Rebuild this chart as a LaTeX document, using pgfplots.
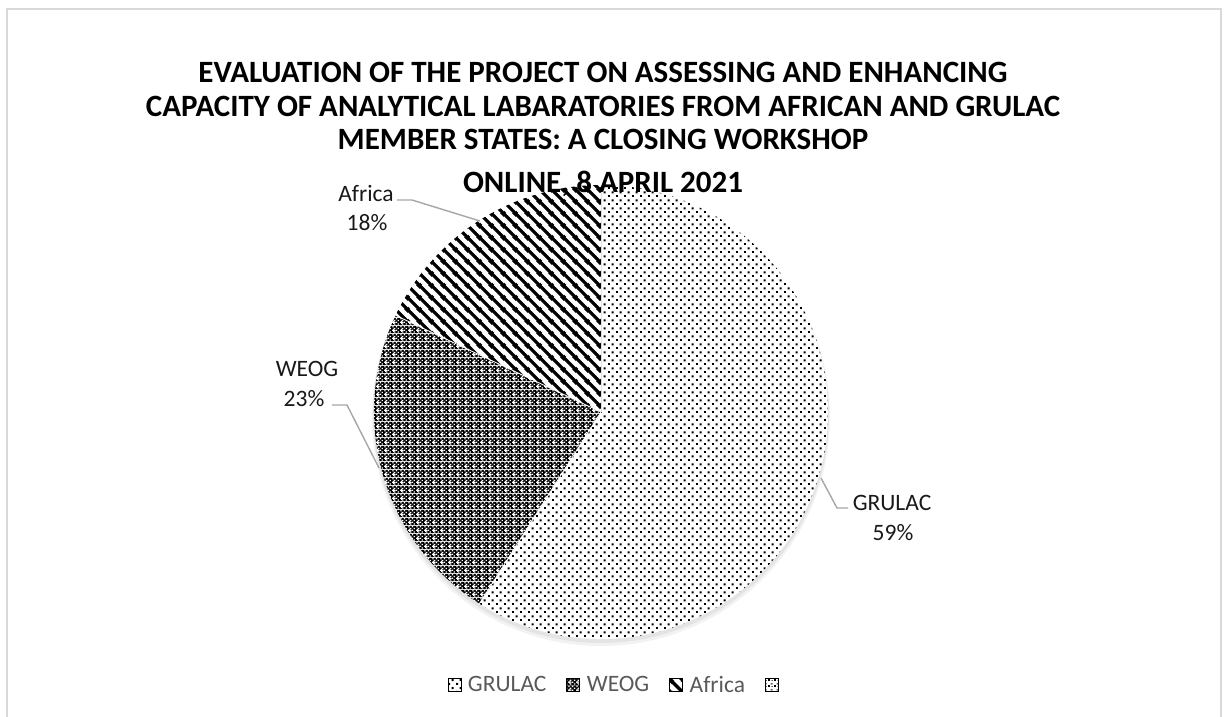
\documentclass[border=0pt]{standalone}
\usepackage{fontspec}
\setmainfont{Carlito}
\usepackage{pgfplots}
\pgfplotsset{compat=1.18}
\usepackage{pgfplotstable}
\usetikzlibrary{patterns,patterns.meta}

\tikzdeclarepattern{name=gdots, type=uncolored,
  bounding box={(0pt,0pt) and (8pt,8pt)}, tile size={(8pt,8pt)},
  code={\fill (0pt,0pt) rectangle (2.2pt,2.2pt); \fill (4pt,4pt) rectangle (6.2pt,6.2pt);}}
\tikzdeclarepattern{name=wcheck, type=colored,
  bounding box={(0pt,0pt) and (8pt,8pt)}, tile size={(8pt,8pt)},
  code={\fill[black] (0pt,0pt) rectangle (8pt,8pt);
    \fill[white] (2.3pt,0.3pt) rectangle (3.7pt,1.7pt); \fill[white] (6.3pt,0.3pt) rectangle (7.7pt,1.7pt);
    \fill[white] (0.3pt,2.3pt) rectangle (1.7pt,3.7pt); \fill[white] (4.3pt,2.3pt) rectangle (5.7pt,3.7pt);
    \fill[white] (2.3pt,4.3pt) rectangle (3.7pt,5.7pt); \fill[white] (6.3pt,4.3pt) rectangle (7.7pt,5.7pt);
    \fill[white] (0.3pt,6.3pt) rectangle (1.7pt,7.7pt); \fill[white] (4.3pt,6.3pt) rectangle (5.7pt,7.7pt);
    \fill[white] (1.4pt,1.0pt) rectangle (2.6pt,5.0pt);
    \fill[white] (0pt,2.4pt) rectangle (4pt,3.6pt);}}
\tikzdeclarepattern{name=astripes, type=uncolored,
  bounding box={(0pt,0pt) and (12pt,12pt)}, tile size={(12pt,12pt)},
  code={\draw[line width=3.6pt] (-1pt,13pt) -- (13pt,-1pt);
    \draw[line width=3.6pt] (-2pt,2pt) -- (2pt,-2pt);
    \draw[line width=3.6pt] (10pt,14pt) -- (14pt,10pt);}}
\tikzdeclarepattern{name=rnd, type=uncolored,
  bounding box={(0pt,0pt) and (6pt,6pt)}, tile size={(6pt,6pt)},
  code={\fill (0pt,0pt) rectangle (2pt,2pt); \fill (3pt,3pt) rectangle (5pt,4pt); \fill (4pt,0pt) rectangle (5pt,1pt);}}

\pgfplotstableread{
name value
GRULAC 59
WEOG 23
Africa 18
}\piedata
\pgfplotstablegetelem{0}{value}\of\piedata \edef\vA{\pgfplotsretval}
\pgfplotstablegetelem{1}{value}\of\piedata \edef\vB{\pgfplotsretval}
\pgfplotstablegetelem{2}{value}\of\piedata \edef\vC{\pgfplotsretval}
\pgfmathsetmacro\total{\vA+\vB+\vC}
\pgfmathsetmacro\aA{90-360*(\vA/\total)}
\pgfmathsetmacro\aB{\aA-360*(\vB/\total)}
\pgfmathsetmacro\aC{\aB-360*(\vC/\total)}

\def\cx{601}\def\cy{412}\def\R{227pt}
\definecolor{lblgray}{HTML}{595959}
\definecolor{leader}{HTML}{A6A6A6}
\definecolor{frame}{HTML}{D9D9D9}

\begin{document}
\begin{tikzpicture}
\begin{axis}[
  scale only axis, width=1225pt, height=716pt,
  xmin=0, xmax=1225, ymin=0, ymax=716, y dir=reverse,
  hide axis, clip=false,
  legend columns=-1,
  legend image code/.code={\fill[#1] (0pt,-6.5pt) rectangle (13pt,6.5pt);},
  legend style={draw=none, fill=none, at={(axis cs:617,685)}, anchor=center,
    font=\fontsize{23.5}{28}\selectfont, text=lblgray,
    nodes={inner sep=0pt},
    /tikz/every odd column/.append style={column sep=7pt},
    /tikz/every even column/.append style={column sep=20pt}},
]
\addlegendimage{pattern=gdots}
\addlegendentry{GRULAC}
\addlegendimage{pattern=wcheck}
\addlegendentry{WEOG}
\addlegendimage{pattern=astripes}
\addlegendentry{Africa}
\addlegendimage{pattern=rnd}
\addlegendentry{}

% frame
\draw[frame, line width=2pt] (axis cs:7,740) -- (axis cs:7,9) -- (axis cs:1221,9) -- (axis cs:1221,740);
% shadow
\fill[black, opacity=0.05] (axis cs:\cx,\cy+5) circle[radius=229pt];
\fill[black, opacity=0.06] (axis cs:\cx,\cy+3) circle[radius=228pt];
\fill[white] (axis cs:\cx,\cy) circle[radius=\R];
% slices
\fill[pattern=gdots] (axis cs:\cx,\cy) -- ++(90:\R) arc[start angle=90, end angle=\aA, radius=\R] -- cycle;
\fill[pattern=wcheck] (axis cs:\cx,\cy) -- ++(\aA:\R) arc[start angle=\aA, end angle=\aB, radius=\R] -- cycle;
\fill[pattern=astripes] (axis cs:\cx,\cy) -- ++(\aB:\R) arc[start angle=\aB, end angle=\aC, radius=\R] -- cycle;
\draw[white!75!gray, line width=0.8pt] (axis cs:\cx,\cy) -- ++(90:\R);
\draw[white, line width=0.8pt] (axis cs:\cx,\cy) -- ++(\aA:\R);
\draw[white, line width=0.8pt] (axis cs:\cx,\cy) -- ++(\aB:\R);
% leaders
\draw[leader, line width=1.4pt] (axis cs:397,200) -- (axis cs:412,200) -- (axis cs:480,221);
\draw[leader, line width=1.4pt] (axis cs:332,405) -- (axis cs:347,405) -- (axis cs:379,468);
\draw[leader, line width=1.4pt] (axis cs:848,508) -- (axis cs:837,508) -- (axis cs:821,478);
% data labels
\begin{scope}[every node/.style={font=\fontsize{23.5}{28}\selectfont, anchor=base, inner sep=0pt, text=black!90}]
\node at (axis cs:366,201) {Africa};
\node at (axis cs:367,230) {18\%};
\node at (axis cs:307,376) {WEOG};
\node at (axis cs:304,406) {23\%};
\node at (axis cs:892,510) {GRULAC};
\node at (axis cs:893,540) {59\%};
\end{scope}
% title
\begin{scope}[every node/.style={font=\fontsize{31}{37}\selectfont\bfseries, anchor=base, inner sep=0pt}]
\node at (axis cs:603,82) {EVALUATION OF THE PROJECT ON ASSESSING AND ENHANCING};
\node at (axis cs:603,116) {CAPACITY OF ANALYTICAL LABARATORIES FROM AFRICAN AND GRULAC};
\node at (axis cs:603,149) {MEMBER STATES: A CLOSING WORKSHOP};
\node at (axis cs:603,192) {ONLINE, 8 APRIL 2021};
\end{scope}
\end{axis}
\pgfresetboundingbox
\path[use as bounding box] (0,0) rectangle (1225pt,716pt);
\end{tikzpicture}
\end{document}
